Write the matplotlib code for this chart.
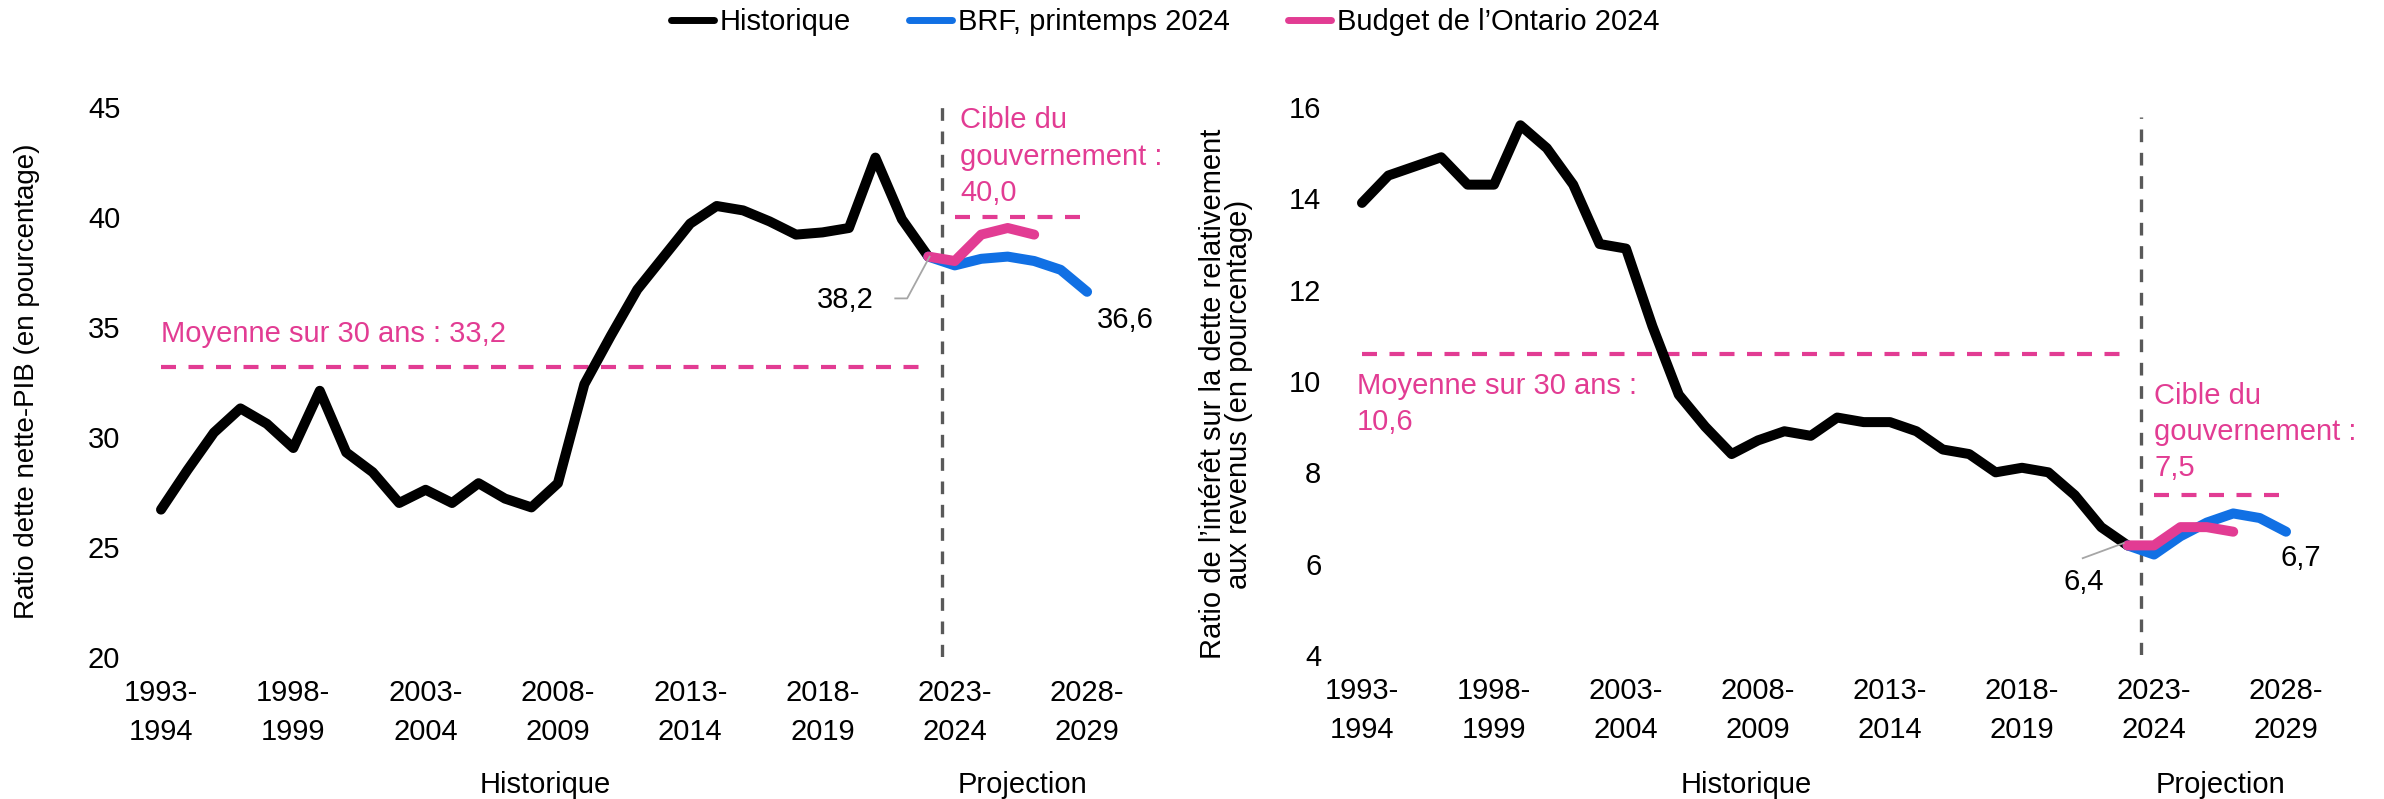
import matplotlib
matplotlib.use('Agg')
import matplotlib.pyplot as plt
from matplotlib.lines import Line2D

plt.rcParams['font.family'] = ['Liberation Sans', 'DejaVu Sans']

# ---------------- data ----------------
categories = ['1993-94', '1994-95', '1995-96', '1996-97', '1997-98', '1998-99', '1999-00',
              '2000-01', '2001-02', '2002-03', '2003-04', '2004-05', '2005-06', '2006-07',
              '2007-08', '2008-09', '2009-10', '2010-11', '2011-12', '2012-13', '2013-14',
              '2014-15', '2015-16', '2016-17', '2017-18', '2018-19', '2019-20', '2020-21',
              '2021-22', '2022-23', '2023-24', '2024-25', '2025-26', '2026-27', '2027-28',
              '2028-29']
tick_labels = ['1993-\n1994', '1998-\n1999', '2003-\n2004', '2008-\n2009',
               '2013-\n2014', '2018-\n2019', '2023-\n2024', '2028-\n2029']

# Left panel: net debt-to-GDP
debt_hist = [26.7, 28.5, 30.2, 31.3, 30.6, 29.5, 32.1, 29.3, 28.4, 27.0,
             27.6, 27.0, 27.9, 27.2, 26.8, 27.9, 32.4, 34.6, 36.7, 38.2,
             39.7, 40.5, 40.3, 39.8, 39.2, 39.3, 39.5, 42.7, 39.9, 38.2]
debt_brf = [38.2, 37.8, 38.1, 38.2, 38.0, 37.6, 36.6]
debt_budget = [38.2, 38.0, 39.2, 39.5, 39.2]
debt_avg = 33.2
debt_target = 40.0

# Right panel: interest-to-revenue
int_hist = [13.9, 14.5, 14.7, 14.9, 14.3, 14.3, 15.6, 15.1, 14.3, 13.0,
            12.9, 11.2, 9.7, 9.0, 8.4, 8.7, 8.9, 8.8, 9.2, 9.1,
            9.1, 8.9, 8.5, 8.4, 8.0, 8.1, 8.0, 7.5, 6.8, 6.4]
int_brf = [6.4, 6.2, 6.6, 6.9, 7.1, 7.0, 6.7]
int_budget = [6.4, 6.4, 6.8, 6.8, 6.7]
int_avg = 10.6
int_target = 7.5

legend_labels = ['Historique', 'BRF, printemps 2024', 'Budget de l’Ontario 2024']

# ---------------- style ----------------
BLACK = '#000000'
BLUE = '#1170E4'
PINK = '#E23C93'
GREY = '#595959'
LEADER = '#A6A6A6'
FS = 21
LW = 7.2
LS_TXT = 1.38

W, H = 2384, 799
fig = plt.figure(figsize=(W / 100, H / 100), dpi=100)


def px_axes(left, top, right, bottom):
    return fig.add_axes([left / W, 1 - bottom / H, (right - left) / W, (bottom - top) / H])


def draw_panel(ax, hist, brf, budget, avg, target, ylim, yticks, vtop):
    n_hist = len(hist)
    start = n_hist - 1
    x_hist = list(range(n_hist))
    x_brf = list(range(start, start + len(brf)))
    x_bud = list(range(start, start + len(budget)))

    ax.plot(x_hist, hist, color=BLACK, lw=LW, solid_capstyle='round',
            solid_joinstyle='round', zorder=3)
    ax.plot(x_brf, brf, color=BLUE, lw=LW, solid_capstyle='round',
            solid_joinstyle='round', zorder=4)
    ax.plot(x_bud, budget, color=PINK, lw=LW, solid_capstyle='round',
            solid_joinstyle='round', zorder=5)

    # 30-year average line over historical span
    ax.plot([0, start], [avg, avg], color=PINK, lw=3, ls=(0, (3.6, 3.0)), zorder=2)
    # Target line over projection span
    ax.plot([start + 1, len(categories) - 1.25], [target, target], color=PINK, lw=3,
            ls=(0, (3.6, 3.0)), zorder=2)
    # historical / projection divider
    ax.axvline(start + 0.5, ymin=0, ymax=(vtop - ylim[0]) / (ylim[1] - ylim[0]),
               color=GREY, lw=2.4, ls=(0, (3.8, 3.2)), zorder=1)

    ax.set_xlim(-0.7, 35.7)
    ax.set_ylim(*ylim)
    ax.set_yticks(yticks)
    ax.set_yticklabels([str(t) for t in yticks])
    ax.set_xticks(list(range(0, len(categories), 5)))
    ax.set_xticklabels(tick_labels, linespacing=1.48)
    for s in ax.spines.values():
        s.set_visible(False)
    ax.tick_params(axis='both', length=0, labelsize=FS)
    ax.tick_params(axis='y', pad=16)
    ax.tick_params(axis='x', pad=16)
    return start


def fmt(v):
    return f"{v:.1f}".replace('.', ',')


# ---- Left panel ----
axL = px_axes(142.5, 96, 1105.6, 657)
sL = draw_panel(axL, debt_hist, debt_brf, debt_budget, debt_avg, debt_target,
                (20, 45.5), [20, 25, 30, 35, 40, 45], 45.4)
axL.text(0, debt_avg + 1.5, f"Moyenne sur 30 ans : {fmt(debt_avg)}", color=PINK,
         fontsize=FS, ha='left', va='center')
axL.text(sL + 1.2, debt_target + 0.45, f"Cible du\ngouvernement :\n{fmt(debt_target)}",
         color=PINK, fontsize=FS, ha='left', va='bottom', linespacing=LS_TXT)
axL.plot([sL + 0.05, sL - 0.8, sL - 1.25],
         [debt_hist[-1], debt_hist[-1] - 1.9, debt_hist[-1] - 1.9],
         color=LEADER, lw=1.3, zorder=6)
axL.text(sL - 2.05, debt_hist[-1] - 1.95, fmt(debt_hist[-1]), fontsize=FS,
         ha='right', va='center')
axL.text(36.45, debt_brf[-1] - 1.3, fmt(debt_brf[-1]), fontsize=FS,
         ha='center', va='center')

# ---- Right panel ----
axR = px_axes(1343.5, 95.6, 2304.5, 655)
sR = draw_panel(axR, int_hist, int_brf, int_budget, int_avg, int_target,
                (4, 16.25), [4, 6, 8, 10, 12, 14, 16], 15.78)
axR.text(-0.2, int_avg - 0.4, f"Moyenne sur 30 ans :\n{fmt(int_avg)}", color=PINK,
         fontsize=FS, ha='left', va='top', linespacing=LS_TXT)
axR.text(sR + 1.0, int_target + 0.28, f"Cible du\ngouvernement :\n{fmt(int_target)}",
         color=PINK, fontsize=FS, ha='left', va='bottom', linespacing=LS_TXT)
axR.plot([sR - 0.15, sR - 1.7], [int_hist[-1] + 0.05, int_hist[-1] - 0.28],
         color=LEADER, lw=1.3, zorder=6)
axR.text(sR - 1.65, int_hist[-1] - 0.8, fmt(int_hist[-1]), fontsize=FS,
         ha='center', va='center')
axR.text(35.57, int_brf[-1] - 0.58, fmt(int_brf[-1]), fontsize=FS,
         ha='center', va='center')

# ---- axis titles ----
fig.text(27 / W, 1 - 381 / H, 'Ratio dette nette-PIB (en pourcentage)', rotation=90,
         ha='center', va='center', fontsize=20)
fig.text(1226 / W, 1 - 394 / H,
         'Ratio de l’intérêt sur la dette relativement\naux revenus (en pourcentage)',
         rotation=90, ha='center', va='center', fontsize=21, multialignment='center',
         linespacing=0.95)

for x, lab in [(545, 'Historique'), (1023, 'Projection'),
               (1746, 'Historique'), (2221, 'Projection')]:
    fig.text(x / W, 1 - 785 / H, lab, ha='center', va='center', fontsize=FS)

# ---- legend ----
handles = [Line2D([0], [0], color=c, lw=5, solid_capstyle='round') for c in (BLACK, BLUE, PINK)]
fig.legend(handles, legend_labels, loc='center', bbox_to_anchor=(1165 / W, 1 - 22 / H),
           ncol=3, frameon=False, fontsize=FS, handlelength=1.47, handletextpad=0.2,
           columnspacing=2.0, borderaxespad=0, borderpad=0)

fig.savefig('out.png', dpi=100)
